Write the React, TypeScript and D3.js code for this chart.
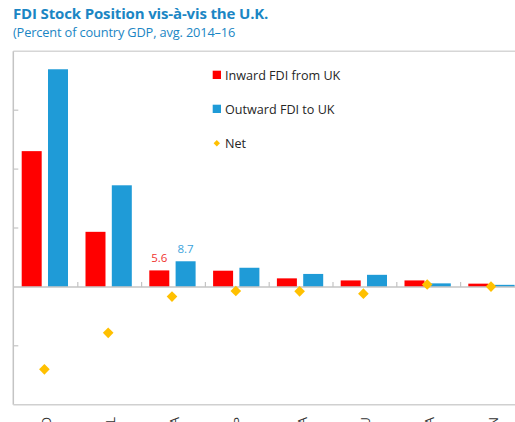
import React from "react";
import * as d3 from "d3";

const categories = ["NLD", "IRL", "FRA", "ESP", "ITA", "DEU", "LVA", "FIN"];
const inwardFDI = [46.1, 18.7, 5.6, 5.5, 2.9, 2.2, 2.2, 1.1];
const outwardFDI = [73.9, 34.5, 8.7, 6.5, 4.4, 4.1, 1.2, 0.7];
const netFDI = [-28.0, -15.6, -3.3, -1.4, -1.5, -2.3, 0.8, 0.1];
const yTicks = [-40, -20, 0, 20, 40, 60, 80];
const labelled = [{ idx: 2 }];

const W = 515;
const H = 422;
const RED = "#FF0000";
const BLUE = "#1F9BD7";
const GOLD = "#FFC000";
const AXIS = "#C4C4C4";
const TITLE = "#1B86C4";
const FONT = "'Open Sans', 'Noto Sans', sans-serif";

export default function App() {
  const left = 13.3;
  const top = 51.3;
  const bottom = 404.7;
  const x = d3.scaleBand<string>().domain(categories).range([14, 14 + 8 * 63.8]).padding(0);
  const bw = x.bandwidth();
  const sub = d3.scaleBand<string>().domain(["in", "out"]).range([7.7, 54]).paddingInner(0.24).paddingOuter(0);
  const y = d3.scaleLinear().domain([-40, 80]).range([bottom, top]);
  const y0 = y(0);
  const diamond = d3.symbol().type(d3.symbolDiamond2).size(72)();
  const legendDiamond = d3.symbol().type(d3.symbolDiamond2).size(26)();

  return (
    <div style={{ position: "absolute", left: 0, top: 0, width: W, height: H, overflow: "hidden", background: "#fff" }}>
      <svg width={W} height={H} style={{ display: "block", fontFamily: FONT }}>
        <text x={13} y={18.5} fill={TITLE} fontWeight={700} fontSize={15} letterSpacing={-0.15}>
          FDI Stock Position vis-à-vis the U.K.
        </text>
        <text x={13} y={37} fill={TITLE} fontSize={12.8} letterSpacing={-0.15}>
          (Percent of country GDP, avg. 2014–16
        </text>

        {/* frame */}
        <line x1={left} x2={W + 5} y1={top} y2={top} stroke="#D6D6D6" strokeWidth={1.5} />
        <line x1={left} x2={left} y1={top} y2={bottom} stroke={AXIS} strokeWidth={1.5} />
        <line x1={left} x2={W + 5} y1={bottom} y2={bottom} stroke="#D0D0D0" strokeWidth={1.5} />

        {yTicks.filter((t) => t !== -40 && t !== 80 && t !== 0).map((t) => (
          <line key={t} x1={left} x2={left + 5} y1={y(t)} y2={y(t)} stroke={AXIS} strokeWidth={1.2} />
        ))}

        {/* bars */}
        {categories.map((c, i) => (
          <g key={c}>
            <rect x={x(c)! + sub("in")!} width={sub.bandwidth()} y={Math.min(y(inwardFDI[i]), y0)} height={Math.abs(y(inwardFDI[i]) - y0)} fill={RED} />
            <rect x={x(c)! + sub("out")!} width={sub.bandwidth()} y={Math.min(y(outwardFDI[i]), y0)} height={Math.abs(y(outwardFDI[i]) - y0)} fill={BLUE} />
          </g>
        ))}

        {/* zero line + category ticks */}
        <line x1={left} x2={W + 5} y1={y0} y2={y0} stroke={AXIS} strokeWidth={1.5} />
        {categories.slice(1).map((c) => (
          <line key={c} x1={x(c)!} x2={x(c)!} y1={y0} y2={y0 - 5} stroke={AXIS} strokeWidth={1.2} />
        ))}

        {/* net diamonds */}
        {categories.map((c, i) => (
          <path key={c} d={diamond!} transform={`translate(${x(c)! + bw / 2 - 1.5},${y(netFDI[i])})`} fill={GOLD} />
        ))}

        {/* value labels */}
        {labelled.map(({ idx }) => {
          const c = categories[idx];
          return (
            <g key={c} fontSize={11.5}>
              <text x={x(c)! + sub("in")! + sub.bandwidth() / 2} y={y(inwardFDI[idx]) - 8.5} textAnchor="middle" fill="#F0322E">
                {inwardFDI[idx].toFixed(1)}
              </text>
              <text x={x(c)! + sub("out")! + sub.bandwidth() / 2} y={y(outwardFDI[idx]) - 8.5} textAnchor="middle" fill="#3BA3DC">
                {outwardFDI[idx].toFixed(1)}
              </text>
            </g>
          );
        })}

        {/* category labels (rotated, clipped by the frame edge as in the source) */}
        {categories.map((c) => (
          <text key={c} transform={`translate(${x(c)! + bw / 2 + 5.5},${417}) rotate(-90)`} textAnchor="end" fontSize={12.5} fill="#333">
            {c}
          </text>
        ))}

        {/* legend */}
        <g fontSize={12.6} fill="#262626">
          <rect x={212.7} y={70.7} width={8.3} height={8.3} fill={RED} />
          <text x={225} y={79.5}>Inward FDI from UK</text>
          <rect x={212.7} y={104.7} width={8.3} height={8.3} fill={BLUE} />
          <text x={225} y={113.5}>Outward FDI to UK</text>
          <path d={legendDiamond!} transform="translate(216.8,143.3)" fill={GOLD} />
          <text x={225} y={147.5}>Net</text>
        </g>
      </svg>
    </div>
  );
}
